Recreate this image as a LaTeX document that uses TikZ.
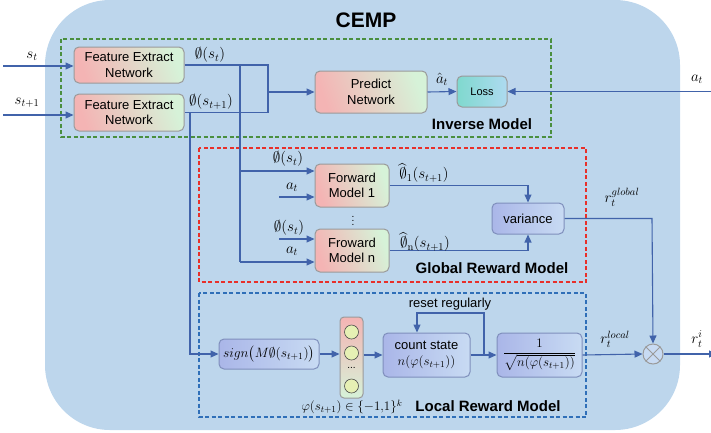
\RequirePackage{fix-cm}
\documentclass[tikz,border=0pt]{standalone}
\usepackage{amsmath,amssymb}
\usepackage[no-math]{fontspec}
\setmainfont{Liberation Sans}
\usetikzlibrary{arrows.meta,calc}

\definecolor{bgblue}{HTML}{BDD6EC}
\definecolor{lineblue}{HTML}{4163AA}
\definecolor{boxgray}{HTML}{9A9A9A}
\definecolor{boxblue}{HTML}{7F8FBC}
\definecolor{pinkA}{HTML}{F4B4B4}
\definecolor{greenA}{HTML}{D6F2D8}
\definecolor{tealA}{HTML}{7FD9CE}
\definecolor{skyA}{HTML}{AEDAF0}
\definecolor{lavA}{HTML}{AAB6E8}
\definecolor{lavB}{HTML}{C8DBF3}
\definecolor{dotfill}{HTML}{E6F0B4}
\definecolor{grn}{HTML}{4A8F3F}
\definecolor{rd}{HTML}{E8302A}
\definecolor{bl}{HTML}{2F6FB8}

\tikzset{
  conn/.style={draw=lineblue, line width=1.1pt},
  arr/.style={conn, -{Triangle[length=8pt,width=7pt]}},
  sz/.style 2 args={minimum width=#1pt, minimum height=#2pt},
  boxbase/.style={rounded corners=5pt, line width=1pt, inner sep=1pt, align=center,
                  font=\fontsize{13}{15.5}\selectfont, text=black},
  warmbox/.style={boxbase, draw=boxgray, left color=pinkA, right color=greenA, shading angle=110},
  coolbox/.style={boxbase, draw=boxblue, left color=lavA, right color=lavB},
  lossbox/.style={boxbase, draw=boxgray, left color=tealA, right color=skyA, font=\fontsize{11}{13}\selectfont},
  lab/.style={inner sep=0pt, font=\fontsize{15}{17}\selectfont},
  txt/.style={inner sep=0pt, font=\fontsize{13}{15}\selectfont},
  ttl/.style={inner sep=0pt, font=\bfseries\fontsize{15}{17}\selectfont},
  region/.style={line width=1.2pt, dash pattern=on 4pt off 2.5pt},
}

\begin{document}
\begin{tikzpicture}[x=1pt, y=-1pt]
\useasboundingbox (0,0) rectangle (711,432);

% outer CEMP panel
\fill[bgblue, rounded corners=65pt] (45,0) rectangle (680,430);
\node[inner sep=0pt, font=\bfseries\fontsize{21}{24}\selectfont] (cemp) at (366,20) {CEMP};

% dashed regions
\draw[region, grn] (61,39) rectangle (551,137);
\draw[region, rd] (199,148) rectangle (586,282);
\draw[region, bl] (199,293) rectangle (586,417);
\node[ttl] (tinv) at (482,124) {Inverse Model};
\node[ttl] (tglob) at (492,268) {Global Reward Model};
\node[ttl] (tloc) at (488,406) {Local Reward Model};

% boxes
\node[warmbox, sz={110}{36}] (fe1) at (129,65) {Feature Extract\\Network};
\node[warmbox, sz={110}{37}] (fe2) at (129,112.5) {Feature Extract\\Network};
\node[warmbox, sz={112}{42}] (pred) at (371,92) {Predict\\Network};
\node[lossbox, sz={50}{31}] (loss) at (482,91.5) {Loss};
\node[warmbox, sz={74}{43}] (fm1) at (352,185.5) {Forward\\Model 1};
\node[warmbox, sz={74}{43}] (fmn) at (352,250.5) {Froward\\Model n};
\node[inner sep=0pt, font=\fontsize{10}{11}\selectfont] (vdots) at (353,218) {$\vdots$};
\node[coolbox, sz={72}{31}] (var) at (528,218.5) {variance};
\node[coolbox, sz={100}{30}, font=\fontsize{13.5}{15}\selectfont] (sign) at (269,354) {$sign\bigl(M\emptyset(s_{t+1})\bigr)$};
\node[rounded corners=4pt, draw=boxgray, line width=1pt, top color=pinkA, bottom color=greenA,
      sz={23}{81}] (col) at (351.5,357.5) {};
\node[coolbox, sz={87}{44}] (cnt) at (426.5,355) {count state\\$n(\varphi(s_{t+1}))$};
\node[coolbox, sz={85}{44}, font=\fontsize{13}{15}\selectfont] (frac) at (539.5,355) {$\dfrac{1}{\sqrt{n(\varphi(s_{t+1}))}}$};
\node[circle, draw=boxgray, fill=lavB, line width=1pt, minimum size=20pt, inner sep=0pt] (mul) at (653,354) {};
\draw[boxgray, line width=0.8pt] (mul.45) -- (mul.225) (mul.135) -- (mul.315);

% hash code cells
\foreach \yy/\nm in {332/c1,353/c2,386/c3}
  \node[circle, draw=black!70, fill=dotfill, line width=0.6pt, minimum size=14pt, inner sep=0pt] (\nm) at (351.5,\yy) {};
\node[inner sep=0pt, font=\fontsize{10}{12}\selectfont] (cdots) at (351.5,368) {...};

% coordinates for free ends and junctions
\coordinate (in1) at (3,66);
\coordinate (in2) at (3,115);
\coordinate (m1) at (268,65);
\coordinate (m2) at (268,112.5);
\coordinate (mm) at (268,92);
\coordinate (v1top) at (240,65);
\coordinate (v1a) at (240,171);
\coordinate (v1b) at (240,262);
\coordinate (at1) at (279,197);
\coordinate (phin) at (279,239);
\coordinate (v2top) at (190,112.5);
\coordinate (v2bot) at (190,354);
\coordinate (ain) at (711,91.5);
\coordinate (g1) at (528,185.5);
\coordinate (g2) at (528,250.5);
\coordinate (g3) at (652,218.5);
\coordinate (rs1) at (484,355);
\coordinate (rs2) at (484,313);
\coordinate (rs3) at (417,313);
\coordinate (outr) at (717,354);

% connectors: inverse model
\draw[arr] (in1) -- (in1 -| fe1.west);
\draw[arr] (in2) -- (in2 -| fe2.west);
\draw[conn] (fe1.east) -- (m1) -- (m2) -- (fe2.east);
\draw[arr] (mm) -- (pred.west);
\draw[arr] (pred.east) -- (loss.west);
\draw[arr] (ain) -- (loss.east);

% connectors: global reward model
\draw[conn] (v1top) -- (v1b);
\draw[arr] (v1a) -- (v1a -| fm1.west);
\draw[arr] (at1) -- (at1 -| fm1.west);
\draw[arr] (phin) -- (phin -| fmn.west);
\draw[arr] (v1b) -- (v1b -| fmn.west);
\draw[arr] (fm1.east) -- (g1) -- (var.north);
\draw[arr] (fmn.east) -- (g2) -- (var.south);
\draw[arr] (var.east) -- (g3) -- (mul.north);

% connectors: local reward model
\draw[arr] (v2top) -- (v2bot) -- (sign.west);
\draw[arr] (sign.east) -- (sign.east -| col.west);
\draw[arr] (col.east |- cnt.west) -- (cnt.west);
\draw[arr] (cnt.east) -- (frac.west);
\draw[arr] (rs1) -- (rs2) -- (rs3) -- (rs3 |- cnt.north);
\draw[arr] (frac.east) -- (mul.west);
\draw[arr] (mul.east) -- (outr);

% labels
\node[lab] (ls1) at (32,56) {$s_t$};
\node[lab] (ls2) at (27,103) {$s_{t+1}$};
\node[lab] (lp1) at (210,55) {$\emptyset(s_t)$};
\node[lab] (lp2) at (211,102) {$\emptyset(s_{t+1})$};
\node[lab] (lah) at (442,79) {$\hat{a}_t$};
\node[lab] (la) at (697,79) {$a_t$};
\node[lab] (lf1) at (288,159) {$\emptyset(s_t)$};
\node[lab] (lf2) at (292,187) {$a_t$};
\node[lab] (lf3) at (289,228) {$\emptyset(s_t)$};
\node[lab] (lf4) at (292,251) {$a_t$};
\node[lab] (lo1) at (424,173) {$\widehat{\emptyset}_1(s_{t+1})$};
\node[lab] (lo2) at (425,242) {$\widehat{\emptyset}_{\mathrm{n}}(s_{t+1})$};
\node[lab] (lg) at (622,197) {$r_t^{global}$};
\node[txt] (lr) at (450,304) {reset regularly};
\node[txt] (lphi) at (352,407) {$\varphi(s_{t+1})\in\{-1{,}1\}^k$};
\node[lab] (ll) at (615,339) {$r_t^{local}$};
\node[lab] (li) at (697,339) {$r_t^{i}$};
\end{tikzpicture}
\end{document}
